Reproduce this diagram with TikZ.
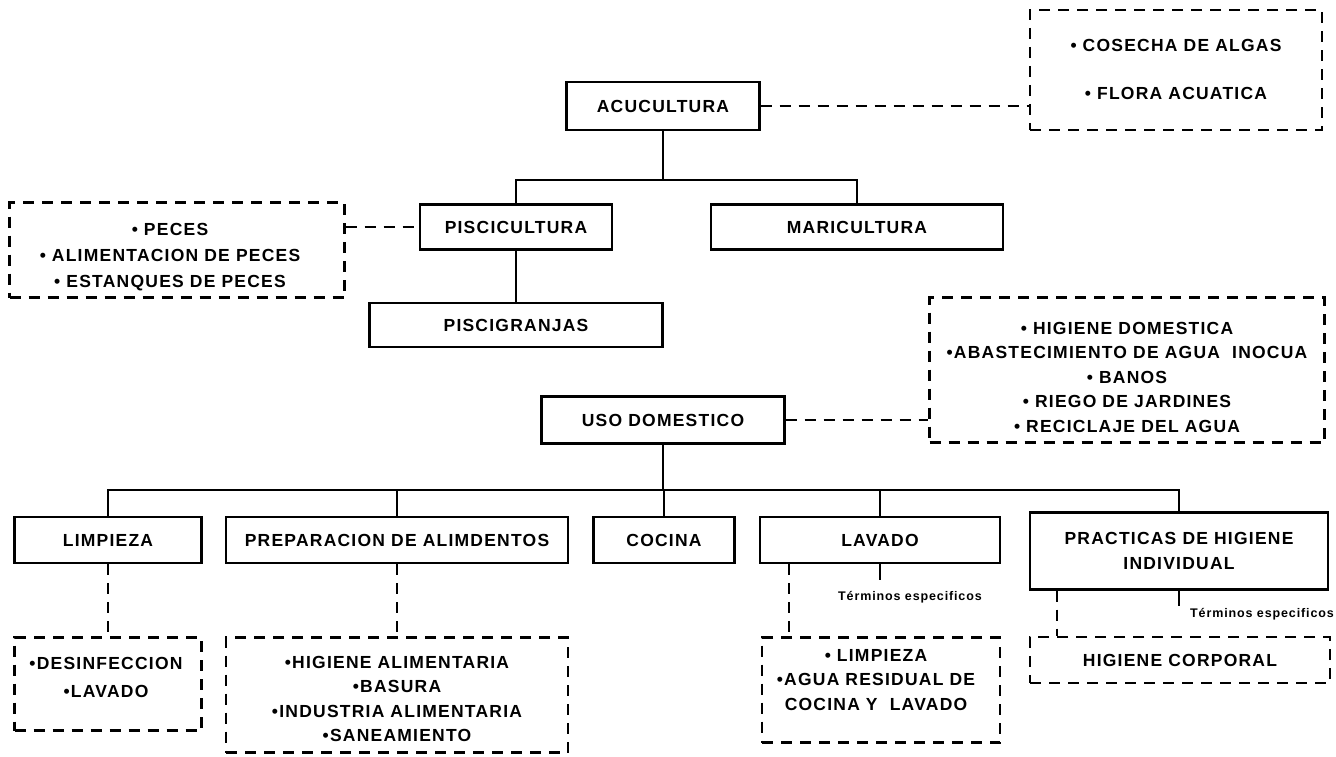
\documentclass[tikz,border=0pt]{standalone}
\usepackage{fontspec}
\setmainfont{Liberation Sans}
\newfontfamily\lblfont[LetterSpace=7]{Liberation Sans}
\usetikzlibrary{calc}
\tikzset{
  base/.style={font=\lblfont\bfseries\fontsize{17.5}{24.5}\selectfont, align=center, inner sep=0pt, line width=2.3pt},
  sbox/.style={base, draw},
  dbox/.style={base, draw, dash pattern=on 11pt off 8pt},
  txt/.style={font=\lblfont\bfseries\fontsize{17.5}{24.5}\selectfont, align=center, inner sep=0pt},
  tree/.style={line width=2.3pt},
  dline/.style={line width=2.3pt, dash pattern=on 11pt off 8pt},
  term/.style={font=\lblfont\bfseries\fontsize{12.5}{15}\selectfont, inner sep=0pt},
}
\begin{document}
\begin{tikzpicture}[x=1pt,y=-1pt]
\fill[white] (0,0) rectangle (1336,757);
\useasboundingbox (0,0) rectangle (1336,757);

% top level
\node[sbox, minimum width=193pt, minimum height=48pt] (acu) at (663,106) {ACUCULTURA};
\node[dbox, minimum width=292pt, minimum height=120pt] (cos) at (1176,70) {};
\node[txt, font=\lblfont\bfseries\fontsize{17.5}{48}\selectfont] (costxt) at (1176,69) {• COSECHA DE ALGAS\\• FLORA ACUATICA};
\draw[dline] (acu.east) -- (acu.east -| cos.west);

% second level
\node[sbox, minimum width=192pt, minimum height=45pt] (pisc) at (516,227) {PISCICULTURA};
\node[sbox, minimum width=292pt, minimum height=45pt] (mari) at (857,227) {MARICULTURA};
\coordinate (j1) at (663,180);
\draw[tree] (acu.south) -- (j1);
\draw[tree] (pisc.north) |- (j1) -| (mari.north);

\node[dbox, minimum width=335pt, minimum height=95pt] (peces) at (177,250) {};
\node[txt, font=\lblfont\bfseries\fontsize{17.5}{26}\selectfont] (pecestxt) at (170,257) {• PECES\\• ALIMENTACION DE PECES\\• ESTANQUES DE PECES};
\draw[dline] (pisc.west -| peces.east) -- (pisc.west);

\node[sbox, minimum width=293pt, minimum height=44pt] (pgr) at (516,325) {PISCIGRANJAS};
\draw[tree] (pisc.south) -- (pgr.north);

% domestic use
\node[sbox, minimum width=243pt, minimum height=47pt] (uso) at (663,420) {USO DOMESTICO};
\node[dbox, minimum width=395pt, minimum height=145pt] (dom) at (1127,370) {};
\node[txt] (domtxt) at (1127,377) {• HIGIENE DOMESTICA\\•ABASTECIMIENTO DE AGUA\ \ INOCUA\\• BANOS\\• RIEGO DE JARDINES\\• RECICLAJE DEL AGUA};
\draw[dline] (uso.east) -- (uso.east -| dom.west);

% fourth level
\node[sbox, minimum width=187pt, minimum height=46pt] (limp) at (108,540) {LIMPIEZA};
\node[sbox, minimum width=342pt, minimum height=46pt] (prep) at (397,540) {PREPARACION DE ALIMDENTOS};
\node[sbox, minimum width=141pt, minimum height=46pt] (coc) at (664,540) {COCINA};
\node[sbox, minimum width=240pt, minimum height=46pt] (lav) at (880,540) {LAVADO};
\node[sbox, minimum width=298pt, minimum height=77pt] (prac) at (1179,551) {PRACTICAS DE HIGIENE\\INDIVIDUAL};
\coordinate (j2) at (663,490);
\draw[tree] (uso.south) -- (j2);
\draw[tree] (limp.north) |- (j2) -| (prac.north);
\draw[tree] (prep.north) -- (prep.north |- j2);
\draw[tree] (coc.north) -- (coc.north |- j2);
\draw[tree] (lav.north) -- (lav.north |- j2);

% fifth level
\node[dbox, minimum width=187pt, minimum height=93pt] (desinf) at (108,684) {};
\node[txt, font=\lblfont\bfseries\fontsize{17.5}{28}\selectfont] (desinftxt) at (106,677) {•DESINFECCION\\•LAVADO};
\node[dbox, minimum width=342pt, minimum height=115pt] (prepsub) at (397,695) {};
\node[txt] (prepsubtxt) at (397,699) {•HIGIENE ALIMENTARIA\\•BASURA\\•INDUSTRIA ALIMENTARIA\\•SANEAMIENTO};
\node[dbox, minimum width=238pt, minimum height=105pt] (lavsub) at (881,690) {};
\node[txt] (lavsubtxt) at (876,680) {• LIMPIEZA\\•AGUA RESIDUAL DE\\COCINA Y\ \ LAVADO};
\node[dbox, minimum width=300pt, minimum height=46pt] (corp) at (1180,660) {HIGIENE CORPORAL};

\draw[dline] (limp.south) -- (desinf.north);
\draw[dline] (prep.south) -- (prepsub.north);
\draw[dline] ([xshift=30pt]lav.south west) -- ([xshift=30pt]lav.south west |- lavsub.north);
\draw[dline] ([xshift=28pt]prac.south west) -- ([xshift=28pt]prac.south west |- corp.north);

\coordinate (lavstub) at (880,580);
\draw[tree] (lav.south) -- (lavstub);
\node[term] (t1) at (910,597) {Términos especificos};
\coordinate (pracstub) at (1179,606);
\draw[tree] (prac.south) -- (pracstub);
\node[term] (t2) at (1262,614) {Términos especificos};
\end{tikzpicture}
\end{document}
